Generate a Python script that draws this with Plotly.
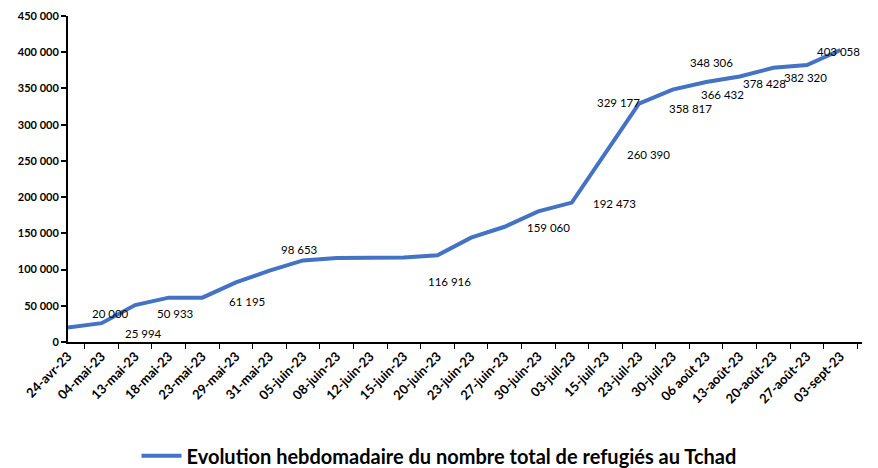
import plotly.graph_objects as go

# ---- data ----
dates = ["24-avr-23", "04-mai-23", "13-mai-23", "18-mai-23", "23-mai-23", "29-mai-23",
         "31-mai-23", "05-juin-23", "08-juin-23", "12-juin-23", "15-juin-23", "20-juin-23",
         "23-juin-23", "27-juin-23", "30-juin-23", "03-juil-23", "15-juil-23", "23-juil-23",
         "30-juil-23", "06 août 23", "13-août-23", "20-août-23", "27-août-23", "03-sept-23"]
refugies = [20000, 25994, 50933, 61195, 61195, 82300, 98653, 112600, 116000, 116300,
            116500, 119600, 144000, 159060, 180300, 192473, 260390, 329177, 348306,
            358817, 366432, 378428, 382320, 403058]

# data labels shown on the chart (point index, value)
label_idx = [0, 1, 2, 4, 6, 11, 13, 15, 16, 17, 18, 19, 20, 21, 22, 23]
label_values = [20000, 25994, 50933, 61195, 98653, 116916, 159060, 192473, 260390,
                329177, 348306, 358817, 366432, 378428, 382320, 403058]
series_name = "Evolution hebdomadaire du nombre total de refugiés au Tchad"

# ---- style: pixel offsets of labels from their points ----
label_dx = [42, 42, 40, 45, 30, 12, 44, 43, 43, -20, 39, -16, -17, -9, -1, -2]
label_dy = [14, -10, -8, -4, 21, -26, -1, -1, -1, 1, 27, -26, -18, -16, -12, -1]

FONT = "Lato"
BLUE = "#4472C4"

fig = go.Figure()
fig.add_trace(go.Scatter(
    x=dates, y=refugies, mode="lines", name=series_name,
    line=dict(color=BLUE, width=4), hoverinfo="x+y",
))


def fmt(v):
    return f"{v:,}".replace(",", " ")


annotations = []
for i, v, dx, dy in zip(label_idx, label_values, label_dx, label_dy):
    annotations.append(dict(
        x=dates[i], y=refugies[i], xref="x", yref="y", text=fmt(v),
        showarrow=False, xshift=dx, yshift=dy,
        font=dict(family=FONT, size=11.5, color="#000000"),
    ))

fig.update_layout(
    width=878, height=468,
    margin=dict(l=68, r=16, t=16, b=126, autoexpand=False),
    paper_bgcolor="white", plot_bgcolor="white",
    separators=". ",
    font=dict(family=FONT, color="#000000"),
    showlegend=True,
    legend=dict(
        orientation="h", xref="container", x=0.5, xanchor="center",
        yref="container", y=0.026, yanchor="middle",
        font=dict(family=FONT, size=20, color="#000000", weight="bold"),
        itemwidth=40,
    ),
    annotations=annotations,
)
fig.update_xaxes(
    type="category", tickangle=-45, tickson="boundaries", automargin=False,
    ticks="outside", ticklen=5, tickcolor="#000000", tickwidth=1,
    showline=True, linecolor="#000000", linewidth=1.5,
    showgrid=False, zeroline=False,
    tickfont=dict(family=FONT, size=13, color="#000000", weight="bold"),
)
fig.update_yaxes(
    range=[0, 450000], dtick=50000, tickformat=",d", automargin=False,
    ticks="outside", ticklen=5, tickcolor="#000000", tickwidth=1.5,
    showline=True, linecolor="#000000", linewidth=2,
    showgrid=False, zeroline=False,
    tickfont=dict(family=FONT, size=11, color="#000000", weight="bold"),
)

fig.write_html("out.html", config={"displayModeBar": False},
               post_script="document.body.style.margin='0';")
